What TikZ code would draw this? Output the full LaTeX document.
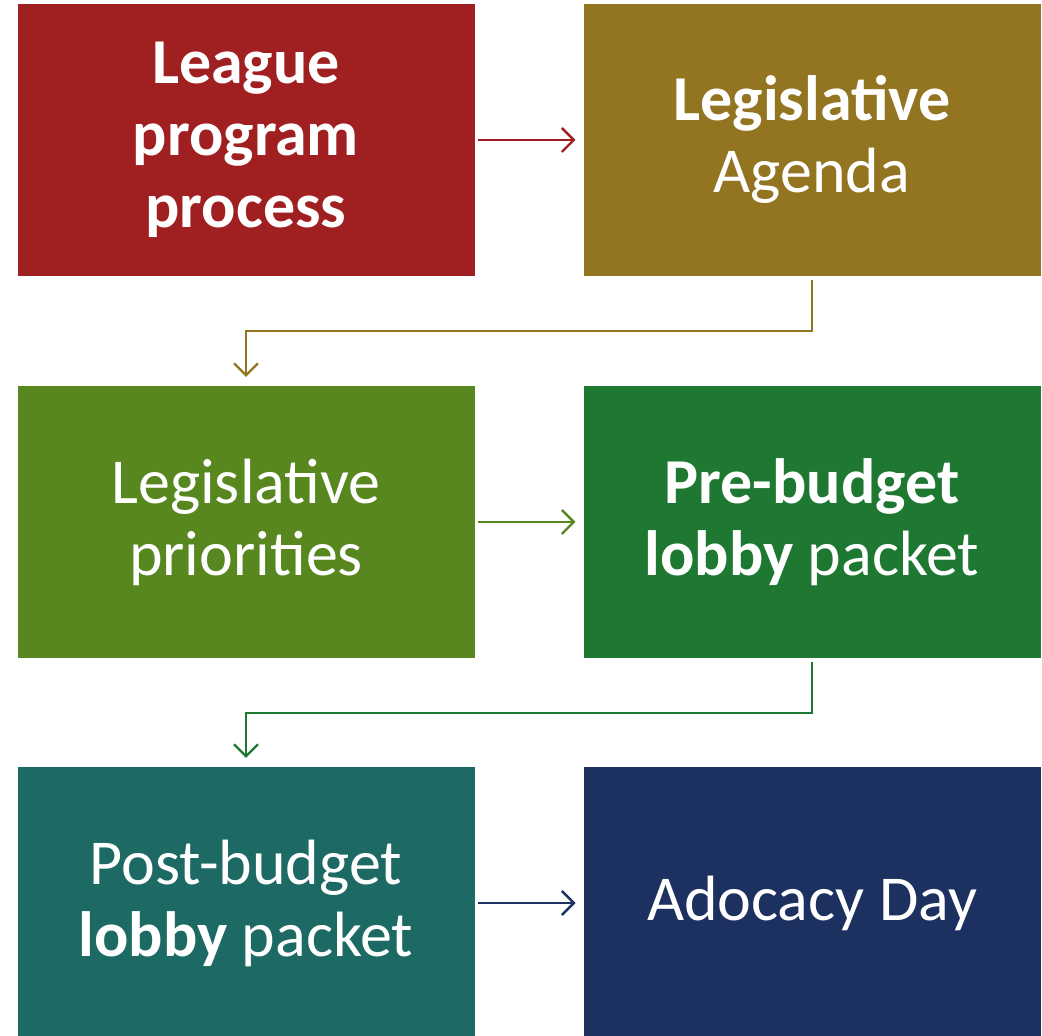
\documentclass[tikz,border=0pt]{standalone}
\usepackage{fontspec}
\setmainfont{Carlito}
\usetikzlibrary{arrows.meta}
\definecolor{cRed}{HTML}{A01F21}
\definecolor{cOlive}{HTML}{937521}
\definecolor{cGreen}{HTML}{58871F}
\definecolor{cDGreen}{HTML}{1F7832}
\definecolor{cTeal}{HTML}{1C6A63}
\definecolor{cNavy}{HTML}{1C3160}
\begin{document}
\begin{tikzpicture}[x=1pt,y=1pt,
  box/.style={minimum width=457pt,minimum height=272pt,inner sep=0pt,outer sep=0pt,
    text=white,align=center,font=\fontsize{64}{72}\selectfont},
  conn/.style={line width=2.4pt,-{Straight Barb[length=12pt,width=24pt,line width=2.4pt]}}]
\useasboundingbox (0,0) rectangle (1042,1036);
\begin{scope}
\clip (0,0) rectangle (1042,1036);
\node[box,fill=cRed]   (b1) at (246,896) {\textbf{League}\\\textbf{program}\\\textbf{process}};
\node[box,fill=cOlive] (b2) at (812,896) {\textbf{Legislative}\\Agenda};
\node[box,fill=cGreen] (b3) at (246,514) {Legislative\\priorities};
\node[box,fill=cDGreen] (b4) at (812,514) {\textbf{Pre-budget}\\\textbf{lobby} packet};
\node[box,fill=cTeal]  (b5) at (246,133) {Post-budget\\\textbf{lobby} packet};
\node[box,fill=cNavy]  (b6) at (812,133) {Adocacy Day};
\end{scope}
\draw[conn,cRed] ([xshift=3pt]b1.east) -- ([xshift=-8pt]b2.west);
\draw[conn,cOlive] ([yshift=-4pt]b2.south) -- ++(0,-51) -| ([yshift=9pt]b3.north);
\draw[conn,cGreen] ([xshift=3pt]b3.east) -- ([xshift=-8pt]b4.west);
\draw[conn,cDGreen] ([yshift=-4pt]b4.south) -- ++(0,-51) -| ([yshift=9pt]b5.north);
\draw[conn,cNavy] ([xshift=3pt]b5.east) -- ([xshift=-8pt]b6.west);
\end{tikzpicture}
\end{document}
